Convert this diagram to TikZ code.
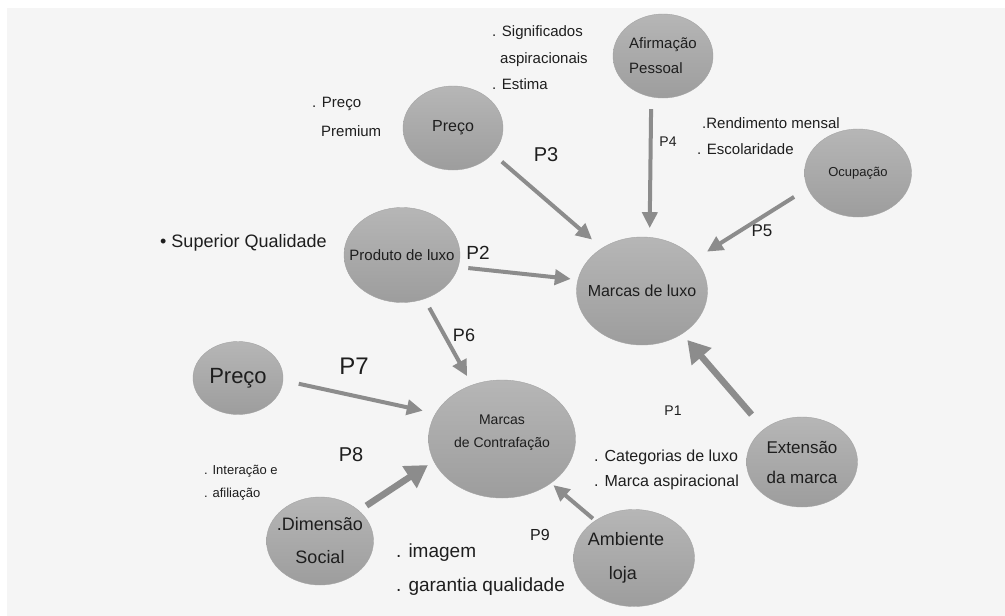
\documentclass[tikz,border=0pt]{standalone}
\usepackage{fontspec}
\setmainfont{Liberation Sans}
\usepackage{tikz}
\usetikzlibrary{arrows.meta,shapes.geometric}
\definecolor{panelgray}{HTML}{F5F5F5}
\definecolor{bubtop}{HTML}{B6B6B6}
\definecolor{bubbot}{HTML}{9D9D9D}
\definecolor{bubedge}{HTML}{A4A4A4}
\definecolor{arrowgray}{HTML}{8C8C8C}
\definecolor{inkblack}{HTML}{1E1E1E}
\newcommand{\fsz}[2]{\fontsize{#1}{#2}\selectfont}

\begin{document}
\begin{tikzpicture}[x=1pt,y=-1pt,
  bubble/.style={ellipse,draw=bubedge,top color=bubtop,bottom color=bubbot,inner sep=-40pt,text=inkblack,align=center},
  note/.style={anchor=west,align=left,text=inkblack,inner sep=0pt},
  plab/.style={text=inkblack,inner sep=0pt},
  ar/.style={-{Triangle[length=16pt,width=15pt]},draw=arrowgray,line width=4pt},
  arbig/.style={-{Triangle[length=22pt,width=25pt]},draw=arrowgray,line width=6.5pt}]

\useasboundingbox (0,0) rectangle (1005,616);
\fill[panelgray] (7,8) rectangle (1005,616);

\node[bubble,minimum width=100pt,minimum height=84pt,font=\fsz{15}{25},align=left] (afirm) at (663,56) {Afirmação\\Pessoal};
\node[bubble,minimum width=100pt,minimum height=84pt,font=\fsz{16}{20}] (preco)  at (453,128) {Preço};
\node[bubble,minimum width=107pt,minimum height=88pt,font=\fsz{13}{16}] (ocup)   at (858,173) {Ocupação};
\node[bubble,minimum width=116pt,minimum height=95pt,font=\fsz{15}{18}] (prod)   at (402,255) {Produto de luxo};
\node[bubble,minimum width=131pt,minimum height=108pt,font=\fsz{16}{20}] (mlux)  at (642,291) {Marcas de luxo};
\node[bubble,minimum width=90pt,minimum height=73pt,font=\fsz{22}{26}]  (precob) at (238,378) {Preço};
\node[bubble,minimum width=147pt,minimum height=118pt,font=\fsz{14}{23}] (mcon)  at (502,439) {Marcas\\de Contrafação\\[-7pt]\mbox{}};
\node[bubble,minimum width=107pt,minimum height=88pt,font=\fsz{18}{33}] (dims)   at (320,541) {.Dimensão\\Social};
\node[bubble,minimum width=121pt,minimum height=97pt,font=\fsz{18}{34}] (amb)    at (634,558) {Ambiente\hspace*{16pt}\\loja\hspace*{22pt}};
\node[bubble,minimum width=111pt,minimum height=90pt,font=\fsz{17}{30}] (ext)    at (802,462) {Extensão\\da marca};

\node[note,font=\fsz{15}{26.5}] (signif) at (492,58)  {. Significados\\\hspace*{8pt}aspiracionais\\. Estima};
\node[note,font=\fsz{15}{29}]   (prem)   at (312,117) {. Preço\\\hspace*{9pt}Premium};
\node[note,font=\fsz{15}{26}]   (rend)   at (697,136) {\hspace*{5pt}.Rendimento mensal\\. Escolaridade};
\node[note,font=\fsz{18}{20}]   (supq)   at (160,243) {• Superior Qualidade};
\node[note,font=\fsz{13}{23}]   (inter)  at (204,483) {. Interação e\\. afiliação};
\node[note,font=\fsz{19}{34}]   (imag)   at (396,570) {. imagem\\. garantia qualidade};
\node[note,font=\fsz{16}{25}]   (categ)  at (594,470) {. Categorias de luxo\\. Marca aspiracional};

\node[plab,font=\fsz{20}{22}] (p3) at (546,155) {P3};
\node[plab,font=\fsz{14}{16}] (p4) at (668,142) {P4};
\node[plab,font=\fsz{17}{19}] (p5) at (762,231) {P5};
\node[plab,font=\fsz{19}{21}] (p2) at (478,253) {P2};
\node[plab,font=\fsz{18}{20}] (p6) at (464,335) {P6};
\node[plab,font=\fsz{24}{26}] (p7) at (354,366) {P7};
\node[plab,font=\fsz{20}{22}] (p8) at (351,455) {P8};
\node[plab,font=\fsz{16}{18}] (p9) at (540,535) {P9};
\node[plab,font=\fsz{14}{16}] (p1) at (673,411) {P1};

\draw[ar,shorten <=12pt,shorten >=13pt] (preco.-33) -- (mlux.133);
\draw[ar,shorten <=12pt,shorten >=9pt] (afirm.-106) -- (mlux.82);
\draw[ar,shorten <=16pt,shorten >=14pt] (ocup.-163) -- (mlux.31);
\draw[ar,shorten <=10pt,shorten >=7pt] (prod.-12) -- (mlux.170);
\draw[ar,shorten <=10pt,shorten >=10pt] (prod.-63) -- (mcon.119);
\draw[ar,shorten <=16pt,shorten >=13pt] (precob.-3) -- (mcon.159);
\draw[arbig,shorten <=9pt,shorten >=7pt] (dims.38) -- (mcon.-162);
\draw[ar,shorten <=3pt,shorten >=3pt] (amb.136) -- (mcon.-42);
\draw[arbig,shorten <=19pt,shorten >=8pt] (ext.139) -- (mlux.-47);
\end{tikzpicture}
\end{document}
